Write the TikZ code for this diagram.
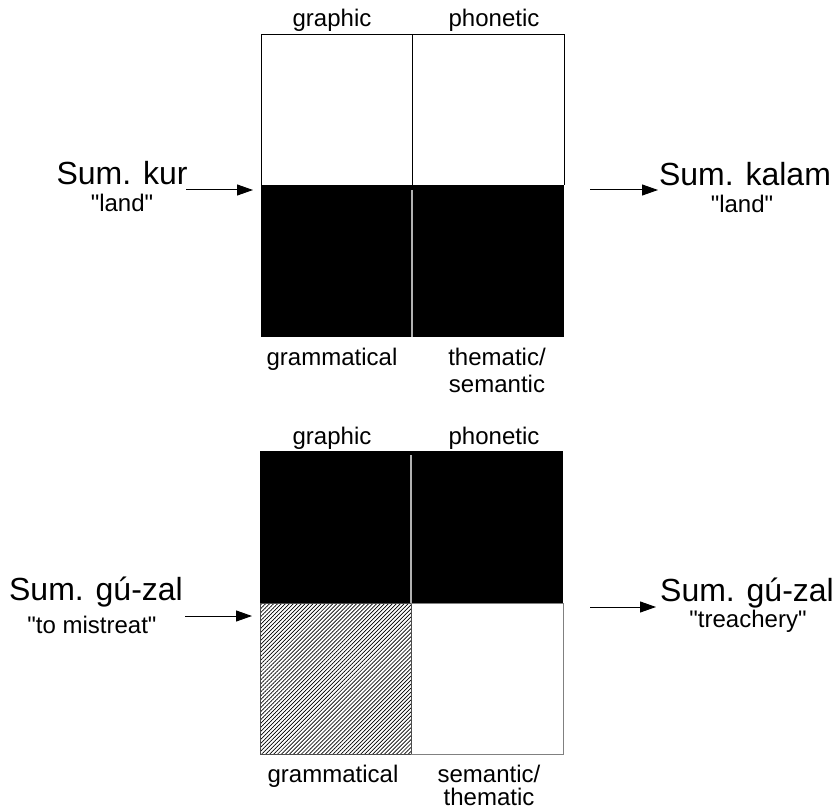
\documentclass[tikz,border=0pt]{standalone}
\usepackage{fontspec}
\setmainfont{Liberation Sans}[Ligatures=TeXOff]
\usetikzlibrary{arrows.meta,patterns.meta}
\begin{document}
\begin{tikzpicture}[x=1pt,y=-1pt,
  big/.style={font=\fontsize{32}{36}\selectfont, inner sep=0pt, anchor=base},
  small/.style={font=\fontsize{24}{27}\selectfont, inner sep=0pt, anchor=base},
  lab/.style={font=\fontsize{24}{27}\selectfont, inner sep=0pt, anchor=base},
  arr/.style={-{Triangle[length=16pt,width=11pt]}, line width=1pt},
  cellline/.style={line width=1pt},
  divgray/.style={line width=1.2pt, gray!60}]
\useasboundingbox (0,0) rectangle (835,810);

% ---------- top grid ----------
\fill[black] (261,185) rectangle (564,337);
\draw[cellline] (261,185) -- (261,35) -- (564,35) -- (564,185);
\draw[cellline] (412,35) -- (412,185);
\draw[divgray] (412,190) -- (412,337);

\node[lab] (tg) at (332,27) {graphic};
\node[lab] (tp) at (494,27) {phonetic};
\node[lab] (tgr) at (332,365) {grammatical};
\node[lab] (tt) at (497,365) {thematic/};
\node[lab] (ts) at (497,392) {semantic};

\node[big] (kur) at (122,185) {Sum. kur};
\node[small] (kurg) at (122,212) {"land"};
\node[big] (kalam) at (745,186) {Sum. kalam};
\node[small] (kalamg) at (742,213) {"land"};

\coordinate (a1s) at (186,190);
\coordinate (a1e) at (253,190);
\coordinate (a2s) at (590,190);
\coordinate (a2e) at (658,190);
\draw[arr] (a1s) -- (a1e);
\draw[arr] (a2s) -- (a2e);

% ---------- bottom grid ----------
\fill[black] (260,451) rectangle (563,603);
\fill[pattern={Lines[angle=45,distance=2.8pt,line width=0.7pt]}] (260,603) rectangle (411,754);
\draw[line width=0.8pt, black!70] (260,603) rectangle (411,754);
\draw[line width=1pt, gray] (411,603) -- (563,603) -- (563,754) -- (411,754);
\draw[divgray] (411,455) -- (411,603);

\node[lab] (bg) at (332,444) {graphic};
\node[lab] (bp) at (494,444) {phonetic};
\node[lab] (bgr) at (333,782) {grammatical};
\node[lab] (bs) at (489,782) {semantic/};
\node[lab] (bt) at (489,805) {thematic};

\node[big] (guz1) at (96,600) {Sum. gú-zal};
\node[small] (guz1g) at (92,633) {"to mistreat"};
\node[big] (guz2) at (747,601) {Sum. gú-zal};
\node[small] (guz2g) at (748,627) {"treachery"};

\coordinate (b1s) at (185,616);
\coordinate (b1e) at (252,616);
\coordinate (b2s) at (590,607);
\coordinate (b2e) at (656,607);
\draw[arr] (b1s) -- (b1e);
\draw[arr] (b2s) -- (b2e);
\end{tikzpicture}
\end{document}
